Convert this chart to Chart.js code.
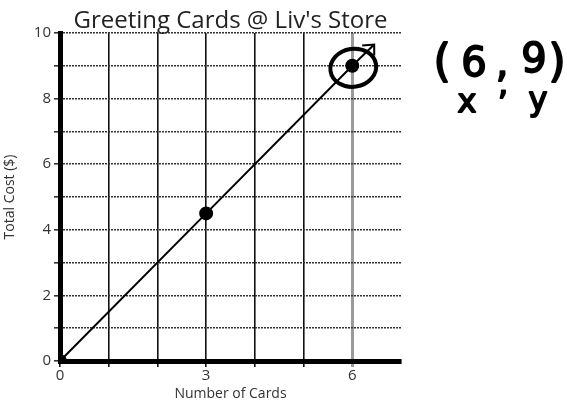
<!DOCTYPE html>
<html>
<head>
<meta charset="utf-8">
<script src="https://cdn.jsdelivr.net/npm/chart.js@4"></script>
<style>
  html, body { margin: 0; padding: 0; background: #fff; }
  #wrap { width: 567px; height: 402px; }
</style>
</head>
<body>
<div id="wrap"><canvas id="chart" width="567" height="402"></canvas></div>
<script>
// Greeting cards line chart

const TITLE = "Greeting Cards @ Liv's Store";
const X_TITLE = 'Number of Cards';
const Y_TITLE = 'Total Cost ($)';

const cards = [0, 3, 6];
const cost = [0, 4.5, 9];
const xTickLabels = [0, 3, 6];
const yTickLabels = [0, 2, 4, 6, 8, 10];

// circled point + hand notes
const circled = { x: 6, y: 9 };
const arrowTip = { x: 6.45, y: 9.65 };

const points = cards.map((c, i) => ({ x: c, y: cost[i] }));

// draw text a little heavier, like a marker
function marker(ctx, text, x, y) {
  ctx.fillText(text, x, y);
  ctx.strokeText(text, x, y);
}

// ── Annotation plugin: title, circle, arrow, handwriting ─────
const notes = {
  id: 'notes',
  afterDraw(chart) {
    const { ctx, chartArea, scales } = chart;
    const xs = scales.x, ys = scales.y;
    ctx.save();

    // title centered over the plot
    ctx.fillStyle = '#222';
    ctx.font = "24px 'Open Sans'";
    ctx.textAlign = 'center';
    ctx.textBaseline = 'alphabetic';
    ctx.fillText(TITLE, (chartArea.left + chartArea.right) / 2, 28);

    // arrow from the point
    const px = xs.getPixelForValue(circled.x), py = ys.getPixelForValue(circled.y);
    const ax = xs.getPixelForValue(arrowTip.x), ay = ys.getPixelForValue(arrowTip.y);
    ctx.strokeStyle = '#000';
    ctx.lineWidth = 2;
    ctx.beginPath();
    ctx.moveTo(px, py);
    ctx.lineTo(ax, ay);
    ctx.moveTo(ax - 12, ay + 1);
    ctx.lineTo(ax, ay);
    ctx.lineTo(ax, ay + 11);
    ctx.stroke();

    // hand-drawn ellipse
    ctx.lineWidth = 4;
    ctx.beginPath();
    ctx.ellipse(px + 1, py + 2, 23, 19, -0.15, 0, Math.PI * 2);
    ctx.stroke();

    // handwritten coordinates
    ctx.fillStyle = '#000';
    ctx.lineWidth = 1.8;
    ctx.lineJoin = 'round';
    ctx.textAlign = 'center';
    ctx.font = "44px 'DejaVu Sans'";
    marker(ctx, '(', 442, 76);
    marker(ctx, ')', 557, 76);
    ctx.font = "40px 'DejaVu Sans'";
    marker(ctx, '6', 474, 76);
    marker(ctx, '9', 534, 72);
    marker(ctx, ',', 502, 76);
    ctx.font = "32px 'DejaVu Sans'";
    marker(ctx, 'x', 467, 112);
    marker(ctx, 'y', 538, 110);
    marker(ctx, ',', 503, 94);
    ctx.restore();
  }
};

const tickFont = { family: "'Open Sans'", size: 15 };

new Chart(document.getElementById('chart'), {
  type: 'scatter',
  data: {
    datasets: [{
      data: points,
      showLine: true,
      borderColor: '#000',
      borderWidth: 2,
      pointBackgroundColor: '#000',
      pointBorderColor: '#000',
      pointRadius: 6,
    }],
  },
  options: {
    responsive: false,
    animation: false,
    layout: { padding: { left: 0, right: 166, top: 33, bottom: 0 } },
    plugins: { legend: { display: false }, tooltip: { enabled: false } },
    scales: {
      x: {
        type: 'linear',
        min: 0,
        max: 7,
        afterFit(scale) { scale.height = 41; },
        ticks: {
          stepSize: 1,
          autoSkip: false,
          color: '#333',
          font: tickFont,
          padding: 0,
          callback: v => (xTickLabels.includes(v) ? v : ''),
        },
        grid: {
          color: c => {
            const v = c.tick && c.tick.value;
            if (v === 7) return 'rgba(0,0,0,0)';
            return v === 6 ? '#9a9a9a' : '#111';
          },
          lineWidth: c => (c.tick && c.tick.value === 6 ? 3 : 1.6),
          tickLength: 6,
        },
        border: { color: '#000', width: 5 },
        title: { display: true, text: X_TITLE, color: '#333', font: { family: "'Open Sans'", size: 14 }, padding: { top: -5, bottom: 0 } },
      },
      y: {
        min: 0,
        max: 10,
        afterFit(scale) { scale.width = 60; },
        ticks: {
          stepSize: 1,
          autoSkip: false,
          color: '#333',
          font: tickFont,
          padding: 3,
          callback: v => (yTickLabels.includes(v) ? v : ''),
        },
        grid: {
          color: '#333',
          lineWidth: 1.6,
          tickLength: 6,
        },
        border: { color: '#000', width: 5, dash: [2, 1] },
        title: { display: true, text: Y_TITLE, color: '#333', font: { family: "'Open Sans'", size: 14 }, padding: 2 },
      },
    },
  },
  plugins: [notes],
});
</script>
</body>
</html>
